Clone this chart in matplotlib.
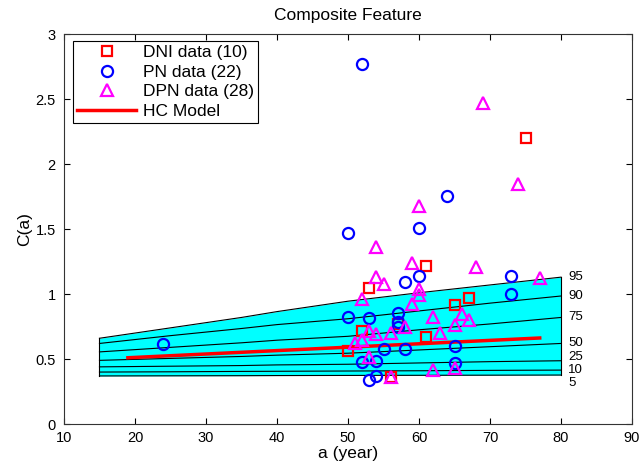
import matplotlib
matplotlib.use("Agg")
import matplotlib.pyplot as plt
import numpy as np

plt.rcParams["font.family"] = ["Liberation Sans", "DejaVu Sans"]
plt.rcParams["font.size"] = 10

# percentile band of the HC model
band_x = [15, 25, 35, 40, 50, 60, 70, 80]
p95 = [0.66, 0.74, 0.82, 0.865, 0.945, 1.01, 1.07, 1.13]
p90 = [0.62, 0.68, 0.735, 0.765, 0.81, 0.87, 0.93, 0.985]
p75 = [0.555, 0.59, 0.625, 0.645, 0.675, 0.725, 0.77, 0.82]
p50 = [0.49, 0.505, 0.52, 0.53, 0.545, 0.57, 0.595, 0.62]
p25 = [0.44, 0.445, 0.45, 0.455, 0.46, 0.47, 0.48, 0.487]
p10 = [0.40, 0.402, 0.405, 0.406, 0.408, 0.41, 0.413, 0.415]
p5 = [0.37, 0.371, 0.372, 0.373, 0.374, 0.375, 0.376, 0.377]
pct_labels = ["95", "90", "75", "50", "25", "10", "5"]
label_y = [1.13, 0.985, 0.82, 0.62, 0.515, 0.415, 0.315]

# HC model
hc_x = [19, 77]
hc_y = [0.51, 0.662]

dni_x = [75, 61, 53, 65, 67, 52, 61, 50, 56, 57]
dni_y = [2.20, 1.215, 1.05, 0.915, 0.97, 0.715, 0.667, 0.561, 0.364, 0.77]

pn_x = [52, 50, 64, 60, 60, 58, 73, 73, 50, 53, 57, 57, 57, 58, 55, 65, 65, 52, 54, 53, 54, 24]
pn_y = [2.77, 1.472, 1.756, 1.51, 1.138, 1.095, 1.141, 1.002, 0.82, 0.818, 0.853,
        0.785, 0.748, 0.58, 0.575, 0.603, 0.467, 0.48, 0.485, 0.338, 0.369, 0.613]

dpn_x = [69, 74, 60, 54, 59, 68, 77, 54, 55, 60, 60, 52, 59, 62, 66, 67, 65, 58,
         53, 54, 56, 63, 51, 52, 53, 56, 62, 65]
dpn_y = [2.47, 1.846, 1.68, 1.364, 1.235, 1.21, 1.12, 1.128, 1.08, 1.035, 0.995,
         0.964, 0.92, 0.826, 0.843, 0.80, 0.76, 0.749, 0.718, 0.69, 0.697, 0.703,
         0.626, 0.646, 0.518, 0.364, 0.415, 0.433]

fig = plt.figure(figsize=(6.41, 4.66), dpi=100)
ax = fig.add_axes([0.0998, 0.090, 0.8862, 0.837])

curves = [p95, p90, p75, p50, p25, p10, p5]
ax.fill_between(band_x, p5, p95, color=(0, 1, 1), lw=0, zorder=1)
for c in curves:
    ax.plot(band_x, c, color="k", lw=0.8, zorder=2)
ax.plot([band_x[0]] * 2, [p5[0], p95[0]], color="k", lw=0.8, zorder=2)
ax.plot([band_x[-1]] * 2, [p5[-1], p95[-1]], color="k", lw=0.8, zorder=2)
for lab, y in zip(pct_labels, label_y):
    ax.text(81, y, lab, va="center", ha="left", fontsize=9.5)

ax.plot(dni_x, dni_y, "s", mfc="none", mec="red", ms=6.5, mew=1.6, zorder=4,
        label="DNI data (10)")
ax.plot(pn_x, pn_y, "o", mfc="none", mec="blue", ms=8, mew=1.6, zorder=4,
        label="PN data (22)")
ax.plot(dpn_x, dpn_y, "^", mfc="none", mec="magenta", ms=9, mew=1.6, zorder=4,
        label="DPN data (28)")
ax.plot(hc_x, hc_y, color="red", lw=2.5, zorder=3, label="HC Model")

leg = ax.legend(loc="upper left", bbox_to_anchor=(0.016, 0.983), borderaxespad=0,
                fontsize=12.5, frameon=True, fancybox=False, edgecolor="k",
                handlelength=3.4, labelspacing=0.25, borderpad=0.25,
                handletextpad=0.35, framealpha=1)
leg.get_frame().set_linewidth(0.8)

ax.set_xlim(10, 90)
ax.set_ylim(0, 3)
ax.set_xticks(np.arange(10, 91, 10))
ax.set_yticks(np.arange(0, 3.01, 0.5))
ax.set_yticklabels(["0", "0.5", "1", "1.5", "2", "2.5", "3"])
ax.tick_params(direction="in", top=True, right=True, length=4, width=0.8,
               labelsize=10.5)
ax.tick_params(axis="x", pad=5)
ax.tick_params(axis="y", pad=6)
for s in ax.spines.values():
    s.set_linewidth(0.8)
    s.set_color("#333333")

ax.set_title("Composite Feature", fontsize=12.5, pad=10)
ax.set_xlabel("a (year)", fontsize=12.5, labelpad=1)
ax.set_ylabel("C(a)", fontsize=12.5, labelpad=2)

fig.savefig("out.png", dpi=100)
